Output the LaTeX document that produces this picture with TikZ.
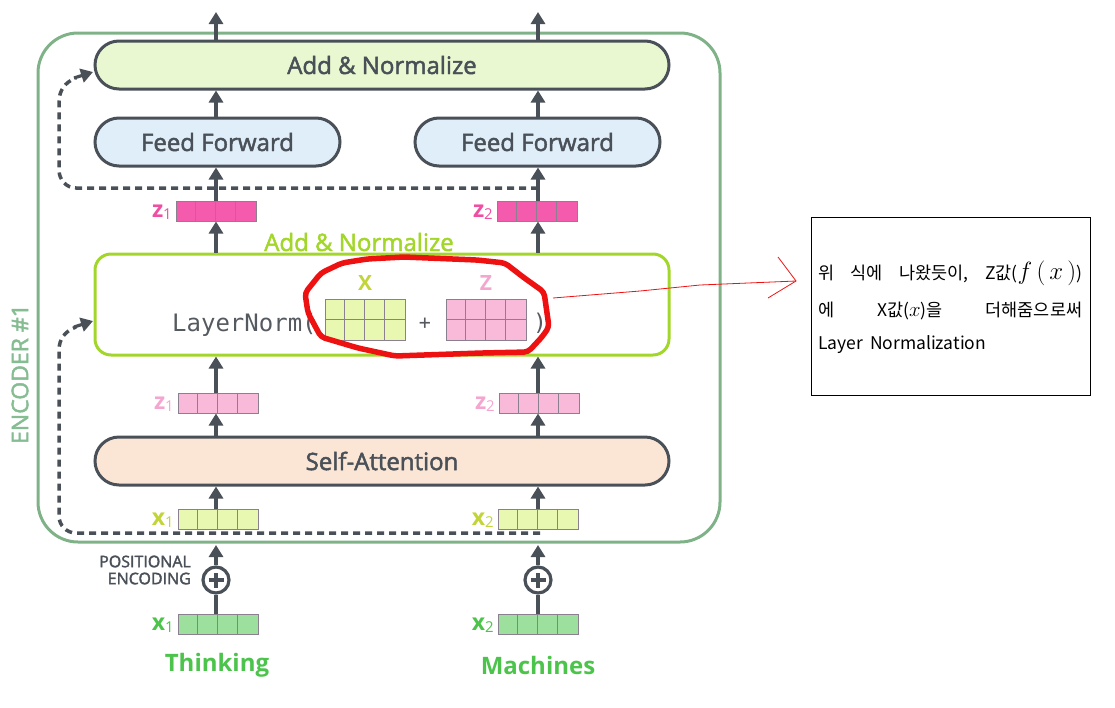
\documentclass[tikz,border=0pt]{standalone}
\usepackage{fontspec}
\setmainfont{Open Sans}
\setmonofont{DejaVu Sans Mono}
\newfontfamily\medf{Open Sans}[FakeBold=2]
\newfontfamily\kr{Noto Sans CJK KR}
\usetikzlibrary{arrows.meta}
\definecolor{dgray}{HTML}{4A5058}
\definecolor{encg}{HTML}{7FB287}
\definecolor{enct}{HTML}{86BC92}
\definecolor{anfill}{HTML}{E9F8D0}
\definecolor{fffill}{HTML}{E0EEFA}
\definecolor{safill}{HTML}{FBE6D6}
\definecolor{lime}{HTML}{A3D62A}
\definecolor{hpink}{HTML}{F45BAC}
\definecolor{hpinkt}{HTML}{EE4FA2}
\definecolor{lpink}{HTML}{F9B9D9}
\definecolor{lpinkt}{HTML}{F4A6CF}
\definecolor{lyel}{HTML}{E8F8B0}
\definecolor{lyelt}{HTML}{C2D43A}
\definecolor{gfill}{HTML}{9DE09D}
\definecolor{gtext}{HTML}{4CC44C}
\definecolor{cellb}{HTML}{8A8090}
\definecolor{monot}{HTML}{555A60}
\definecolor{redm}{HTML}{EE1111}
\newcommand\vrow[4]{%
  \node[draw=cellb, fill=#4, minimum width=80pt, minimum height=20pt, inner sep=0pt, line width=1pt] (#1) at (#2,#3) {};
  \foreach \k in {1,2,3} {\draw[cellb, line width=1pt] ([xshift=\k*20pt]#1.north west) -- ([xshift=\k*20pt]#1.south west);}
}
\newcommand\mrow[4]{%
  \node[draw=cellb, fill=#4, minimum width=80pt, minimum height=41pt, inner sep=0pt, line width=1pt] (#1) at (#2,#3) {};
  \foreach \k in {1,2,3} {\draw[cellb, line width=1pt] ([xshift=\k*20pt]#1.north west) -- ([xshift=\k*20pt]#1.south west);}
  \draw[cellb, line width=1pt] (#1.west) -- (#1.east);
}
\newcommand\subn[1]{\raisebox{-2pt}{\fontsize{15}{15}\selectfont\mdseries #1}}
\begin{document}
\begin{tikzpicture}[x=1pt,y=-1pt,
  bigbox/.style={draw=dgray, line width=3pt, rounded corners=24pt, minimum height=48pt, inner sep=0pt, font=\medf\fontsize{24}{28}\selectfont, text=dgray},
  arr/.style={-{Triangle[length=12pt,width=14pt]}, line width=3.2pt, draw=dgray},
  dsh/.style={dash pattern=on 7pt off 5pt, line width=3.5pt, draw=dgray},
  lab/.style={anchor=east, inner sep=0pt, font=\fontsize{23}{23}\selectfont\bfseries},
  hd/.style={font=\medf\fontsize{24}{28}\selectfont, inner sep=0pt}]
\useasboundingbox (0,0) rectangle (1115,707);

% encoder frame
\node[draw=encg, line width=3pt, rounded corners=40pt, minimum width=682pt, minimum height=509pt, inner sep=0pt] (enc) at (379,287.5) {};
\node[rotate=90, text=enct, font=\medf\fontsize{23}{23}\selectfont, inner sep=0pt] (enclab) at (20,374) {ENCODER \#1};

% top block
\node[bigbox, fill=anfill, minimum width=574pt] (an) at (382,65) {Add \& Normalize};
\node[bigbox, fill=fffill, minimum width=245pt] (ff1) at (217.5,142) {Feed Forward};
\node[bigbox, fill=fffill, minimum width=245pt] (ff2) at (537.5,142) {Feed Forward};
\coordinate (out1) at (216,12);
\coordinate (out2) at (538,12);
\draw[arr] (an.north -| out1) -- (out1);
\draw[arr] (an.north -| out2) -- (out2);
\draw[arr] (ff1.north -| out1) -- (an.south -| out1);
\draw[arr] (ff2.north -| out2) -- (an.south -| out2);

% z top vectors
\vrow{zt1}{216}{211}{hpink}
\vrow{zt2}{537}{211}{hpink}
\node[lab, text=hpinkt] (lzt1) at (172,212) {z\subn{1}};
\node[lab, text=hpinkt] (lzt2) at (493,212) {z\subn{2}};
\draw[arr] (zt1.north -| out1) -- (ff1.south -| out1);
\draw[arr] (zt2.north -| out2) -- (ff2.south -| out2);

% dashed residual (top)
\coordinate (rt) at (538,188);
\coordinate (rtend) at (93,72);
\draw[dsh] (rt) -- (76,188) to[out=180,in=270] (59,170) -- (59,102) to[out=90,in=200] (76,78);
\draw[arr] (74,78) -- (rtend);

% middle add & normalize
\node[hd, text=lime] (anlab) at (359,242) {Add \& Normalize};
\node[draw=lime, line width=3pt, rounded corners=16pt, minimum width=574pt, minimum height=101pt, inner sep=0pt] (mid) at (382,304.5) {};
\draw[arr] (mid.north -| out1) -- (zt1.south -| out1);
\draw[arr] (mid.north -| out2) -- (zt2.south -| out2);
\node[anchor=base west, inner sep=0pt, text=monot, font=\ttfamily\fontsize{24}{24}\selectfont] (ln) at (172,331) {LayerNorm(};
\mrow{mx}{365}{319.5}{lyel}
\mrow{mz}{486}{319.5}{lpink}
\node[inner sep=0pt, text=lyelt, font=\fontsize{21}{21}\selectfont\bfseries] (lx) at (365,283) {X};
\node[inner sep=0pt, text=lpinkt, font=\fontsize{21}{21}\selectfont\bfseries] (lz) at (486,283) {Z};
\node[anchor=base, inner sep=0pt, text=monot, font=\ttfamily\fontsize{20}{20}\selectfont] (plus) at (425,329) {+};
\node[anchor=base, inner sep=0pt, text=monot, font=\ttfamily\fontsize{23}{23}\selectfont] (rp) at (540,330) {)};

% red annotation
\draw[redm, line width=5.5pt, rounded corners=4pt, line join=round] (321,273) -- (342,263) -- (367,259) -- (404,257) -- (477,260) -- (505,263) -- (523,277) -- (544,292) -- (549,327) -- (542,337) -- (528,352) -- (482,353) -- (395,356) -- (358,348) -- (321,337) -- (308,313) -- (305,293) -- cycle;
\coordinate (rs) at (553,298);
\coordinate (rtip) at (796,281);
\draw[redm, line width=0.8pt] (rs) -- (640,291) -- (700,285) -- (rtip);
\draw[redm, line width=0.8pt] (778,257) -- (rtip) -- (768,298);

% note box
\node[draw=black, line width=1pt, minimum width=279pt, minimum height=178pt, inner sep=0pt] (note) at (950.5,306) {};
\node[anchor=base west, inner sep=0pt, font=\kr\fontsize{17.5}{17.5}\selectfont] (n1) at (818,279) {\hbox to 264pt{위\hfill 식에\hfill 나왔듯이,\hfill Z값({\fontsize{23}{23}\selectfont$f\left(\,x\,\right)$})}};
\node[anchor=base west, inner sep=0pt, font=\kr\fontsize{17.5}{17.5}\selectfont] (n2) at (818,316) {\hbox to 264pt{에\hfill X값({\fontsize{21}{21}\selectfont$x$})을\hfill 더해줌으로써}};
\node[anchor=base west, inner sep=0pt, font=\kr\fontsize{17.5}{17.5}\selectfont] (n3) at (818,349) {Layer\hspace{7pt}Normalization};

% z bottom vectors
\vrow{zb1}{218}{403}{lpink}
\vrow{zb2}{539}{403}{lpink}
\node[lab, text=lpinkt] (lzb1) at (174,404) {z\subn{1}};
\node[lab, text=lpinkt] (lzb2) at (495,404) {z\subn{2}};
\draw[arr] (zb1.north -| out1) -- (mid.south -| out1);
\draw[arr] (zb2.north -| out2) -- (mid.south -| out2);

% self-attention
\node[bigbox, fill=safill, minimum width=574pt] (sa) at (382,461) {Self-Attention};
\draw[arr] (sa.north -| out1) -- (zb1.south -| out1);
\draw[arr] (sa.north -| out2) -- (zb2.south -| out2);

% x vectors inside
\vrow{xb1}{218}{519}{lyel}
\vrow{xb2}{538}{519}{lyel}
\node[lab, text=lyelt] (lxb1) at (174,520) {x\subn{1}};
\node[lab, text=lyelt] (lxb2) at (494,520) {x\subn{2}};
\draw[arr] (xb1.north -| out1) -- (sa.south -| out1);
\draw[arr] (xb2.north -| out2) -- (sa.south -| out2);

% dashed residual (bottom)
\coordinate (rb) at (540,533);
\coordinate (rbend) at (93,321);
\draw[dsh] (rb) -- (76,533) to[out=180,in=270] (59,516) -- (59,350) to[out=90,in=200] (76,327);
\draw[arr] (74,327) -- (rbend);

% positional encoding
\node[draw=dgray, line width=3.2pt, circle, minimum size=26pt, inner sep=0pt] (pe1) at (216,580) {};
\node[draw=dgray, line width=3.2pt, circle, minimum size=26pt, inner sep=0pt] (pe2) at (538,580) {};
\foreach \p in {pe1,pe2} {
  \draw[dgray, line width=3.2pt] ([xshift=-7.5pt]\p.center) -- ([xshift=7.5pt]\p.center);
  \draw[dgray, line width=3.2pt] ([yshift=-7.5pt]\p.center) -- ([yshift=7.5pt]\p.center);
}
\draw[arr] (pe1.north) -- (216,545);
\draw[arr] (pe2.north) -- (538,545);
\node[anchor=east, align=right, inner sep=0pt, text=dgray, font=\medf\fontsize{16}{17}\selectfont] (pelab) at (191,570) {POSITIONAL\\ENCODING};

\vrow{xg1}{218}{624}{gfill}
\vrow{xg2}{538}{624}{gfill}
\node[lab, text=gtext] (lxg1) at (174,625) {x\subn{1}};
\node[lab, text=gtext] (lxg2) at (494,625) {x\subn{2}};
\draw[dgray, line width=3.2pt] (xg1.north -| out1) -- (pe1.south);
\draw[dgray, line width=3.2pt] (xg2.north -| out2) -- (pe2.south);

\node[text=gtext, font=\fontsize{24}{24}\selectfont\bfseries, inner sep=0pt] (w1) at (217,665) {Thinking};
\node[text=gtext, font=\fontsize{24}{24}\selectfont\bfseries, inner sep=0pt] (w2) at (538,665) {Machines};
\end{tikzpicture}
\end{document}
